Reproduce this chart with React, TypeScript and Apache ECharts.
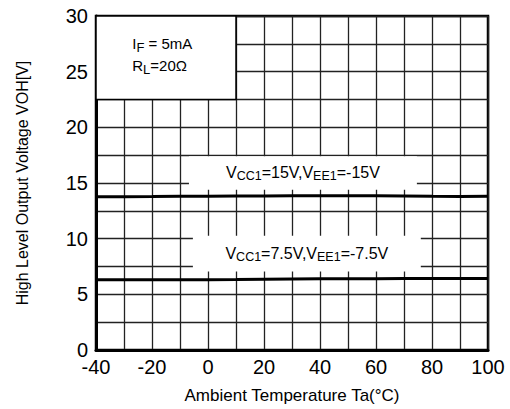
import React, { useEffect, useRef } from "react";
import * as echarts from "echarts";

const temps = [-40, -30, -20, -10, 0, 10, 20, 30, 40, 50, 60, 70, 80, 90, 100];
const voh15 = [13.76, 13.77, 13.78, 13.8, 13.82, 13.83, 13.84, 13.85, 13.85, 13.85, 13.85, 13.84, 13.8, 13.79, 13.82];
const voh75 = [6.3, 6.3, 6.31, 6.31, 6.32, 6.33, 6.35, 6.37, 6.39, 6.4, 6.41, 6.42, 6.42, 6.42, 6.43];
const xLabels = [-40, -20, 0, 20, 40, 60, 80, 100];
const yLabels = [0, 5, 10, 15, 20, 25, 30];
const label15 = "{m|V}{s|CC1}{m|=15V,V}{s|EE1}{m|=-15V}";
const label75 = "{m|V}{s|CC1}{m|=7.5V,V}{s|EE1}{m|=-7.5V}";
const condLabel = "{m|I}{s|F}{m| = 5mA}\n{m|R}{s|L}{m|=20Ω}";

const FONT = "'Liberation Sans', Arial, sans-serif";

export default function App() {
  const ref = useRef<HTMLDivElement>(null);
  useEffect(() => {
    if (!ref.current) return;
    const chart = echarts.init(ref.current, undefined, { renderer: "svg" });
    const vRich = {
      m: { fontSize: 16, lineHeight: 20, verticalAlign: "middle", color: "#000", fontFamily: FONT },
      s: { fontSize: 12.5, lineHeight: 16.4, verticalAlign: "bottom", color: "#000", fontFamily: FONT },
    };
    chart.setOption({
      animation: false,
      backgroundColor: "#fff",
      textStyle: { fontFamily: FONT },
      grid: {
        left: 96, right: 22, top: 16, bottom: 57,
        show: true, borderColor: "#000", borderWidth: 2.5, backgroundColor: "transparent",
      },
      xAxis: {
        type: "value", min: -40, max: 100, interval: 10,
        name: "Ambient Temperature Ta(°C)", nameLocation: "middle", nameGap: 37,
        nameTextStyle: { fontSize: 17, color: "#000", fontFamily: FONT },
        axisLine: { show: true, onZero: false, lineStyle: { color: "#000", width: 3 } },
        axisTick: { show: false },
        axisLabel: {
          fontSize: 20, color: "#000", margin: 7, fontFamily: FONT,
          formatter: (v: number) => (xLabels.includes(v) ? String(v) : ""),
        },
        splitLine: { show: true, lineStyle: { color: "#222", width: 1.3 } },
      },
      yAxis: {
        type: "value", min: 0, max: 30, interval: 2.5,
        name: "High Level Output Voltage VOH[V]", nameLocation: "middle", nameGap: 66,
        nameTextStyle: { fontSize: 16, color: "#000", fontFamily: FONT },
        axisLine: { show: true, onZero: false, lineStyle: { color: "#000", width: 3 } },
        axisTick: { show: false },
        axisLabel: {
          fontSize: 20, color: "#000", margin: 8, fontFamily: FONT,
          formatter: (v: number) => (yLabels.includes(v) ? String(v) : ""),
        },
        splitLine: { show: true, lineStyle: { color: "#222", width: 1.3 } },
      },
      series: [
        {
          name: "15V",
          type: "line",
          data: temps.map((t, i) => [t, voh15[i]]),
          showSymbol: false,
          lineStyle: { color: "#000", width: 3 },
          z: 3,
          markArea: {
            silent: true,
            data: [
              [
                {
                  coord: [-40, 30],
                  itemStyle: { color: "#fff", borderColor: "#000", borderWidth: 1.5 },
                  label: {
                    show: true, position: [37, 39], align: "left", verticalAlign: "middle",
                    formatter: condLabel,
                    rich: {
                      m: { fontSize: 15, lineHeight: 22, verticalAlign: "middle", color: "#000", fontFamily: FONT },
                      s: { fontSize: 13, lineHeight: 14, verticalAlign: "bottom", color: "#000", fontFamily: FONT },
                    },
                  },
                },
                { coord: [10, 22.5] },
              ],
              [
                {
                  coord: [-6.8, 17.4],
                  itemStyle: { color: "#fff", borderWidth: 0 },
                  label: { show: true, position: "inside", formatter: label15, rich: vRich },
                },
                { coord: [74.6, 14.4] },
              ],
              [
                {
                  coord: [-5.4, 10.27],
                  itemStyle: { color: "#fff", borderWidth: 0 },
                  label: { show: true, position: "inside", formatter: label75, rich: vRich },
                },
                { coord: [76, 7.05] },
              ],
            ],
          },
        },
        {
          name: "7.5V",
          type: "line",
          data: temps.map((t, i) => [t, voh75[i]]),
          showSymbol: false,
          lineStyle: { color: "#000", width: 3 },
          z: 3,
        },
      ],
    });
    return () => chart.dispose();
  }, []);
  return <div ref={ref} style={{ width: 510, height: 409, position: "absolute", left: 0, top: 0 }} />;
}
